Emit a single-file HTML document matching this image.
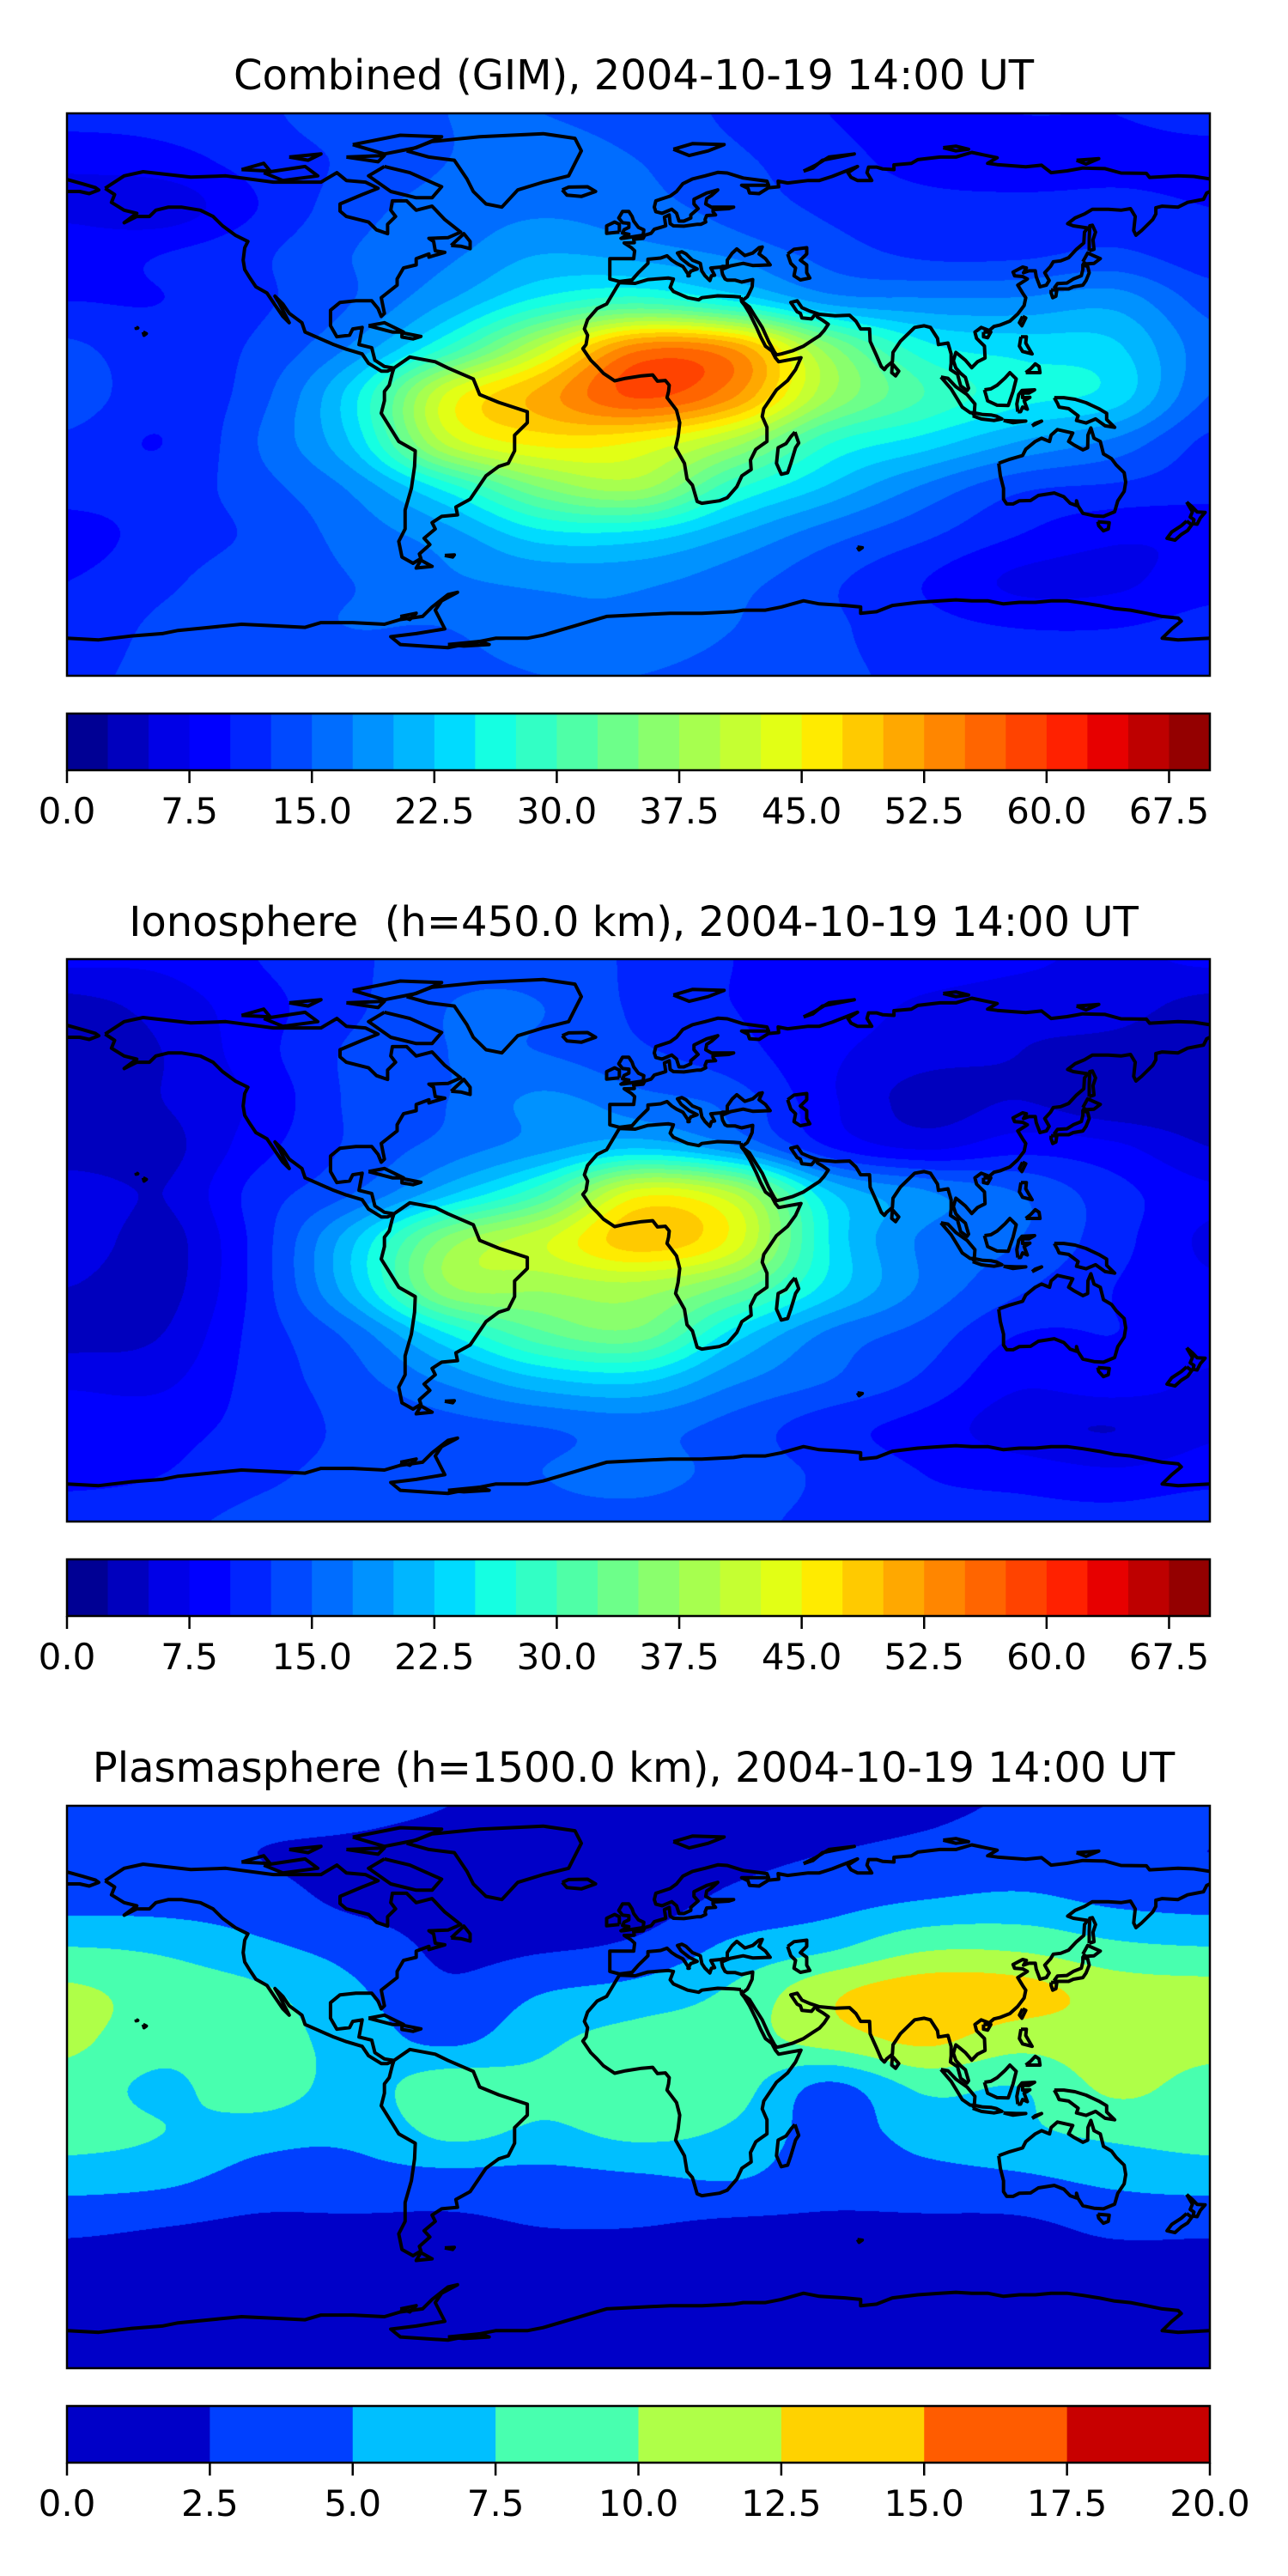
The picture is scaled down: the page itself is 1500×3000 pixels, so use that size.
<!DOCTYPE html>
<html><head><meta charset="utf-8">
<style>
html,body{margin:0;padding:0;background:#fff;}
body{width:1500px;height:3000px;position:relative;overflow:hidden;font-family:"DejaVu Sans","Liberation Sans",sans-serif;}
.title{position:absolute;left:0;width:1500px;text-align:center;font-size:48px;line-height:48px;color:#000;white-space:pre;}
canvas{position:absolute;}
svg{position:absolute;left:0;top:0;}
</style></head>
<body>
<div class="title" style="top:64px;left:-12px">Combined (GIM), 2004-10-19 14:00 UT</div>
<div class="title" style="top:1050px;left:-12px">Ionosphere  (h=450.0 km), 2004-10-19 14:00 UT</div>
<div class="title" style="top:2035px;left:-12px">Plasmasphere (h=1500.0 km), 2004-10-19 14:00 UT</div>
<canvas id="c0" width="1331" height="655" style="left:78px;top:132px"></canvas>
<canvas id="c1" width="1331" height="655" style="left:78px;top:1117px"></canvas>
<canvas id="c2" width="1331" height="655" style="left:78px;top:2103px"></canvas>
<svg id="ov" width="1500" height="3000"></svg>
<script>
// grid longitudes / latitudes
const gridLons = [-180,-150,-120,-90,-60,-30,0,30,60,90,120,150,180];
const gridLats = [90,75,60,45,30,15,0,-15,-30,-45,-60,-75,-90];
// Combined GIM TEC (TECU), rows = gridLats
const combinedTec = [
[11,11,12,14,15,15,14,12,10,9,10,10,11],
[8,9,11,13,15,16,15,13,11,9,8,9,9],
[7,6,10,14,16,17,16,14,12,11,11,11,10],
[9,10,12,15,17,20,19,17,14,12,12,13,11],
[10,10,12,15,20,26,29,25,19,18,18,19,14],
[13,11,13,18,28,41,54,52,36,26,24,23,16],
[14,11,14,24,43,51,58,53,38,30,26,24,15],
[12,10,15,23,41,46,45,39,28,24,20,17,12],
[11,11,14,18,26,35,38,28,22,17,13,12,11],
[9,11,13,16,19,24,24,20,16,13,10,8,8],
[10,12,14,15,17,18,18,16,13,10,7,7,9],
[11,13,14,15,15,17,17,15,13,11,10,10,11],
[12,13,13,13,14,15,15,14,13,12,12,12,12]];
// Ionosphere TEC
const ionoTec = [
[8,8,10,12,14,14,12,10,9,9,8,7,8],
[4,6,9,12,15,15,12,10,9,7,6,6,4],
[3,5,9,13,15,15,13,11,8,6,5,4,3],
[3,5,8,13,15,18,16,14,8,4,5,3,3],
[3,4,9,13,16,19,22,18,10,7,9,8,5],
[7,5,11,15,22,30,44,40,23,18,15,11,8],
[7,4,11,22,36,42,49,44,25,17,15,11,7],
[5,4,11,22,37,38,39,34,24,17,13,10,8],
[4,5,11,16,25,32,34,24,17,14,10,10,9],
[7,7,11,14,18,22,23,18,15,12,8,9,7],
[9,9,11,13,14,15,16,14,11,9,6,5,7],
[9,10,12,13,13,15,16,14,12,10,9,8,9],
[12,12,13,13,13,14,14,13,12,11,11,11,12]];
// Plasmasphere TEC
const plasmaTec = [
[3.5,3.5,3.5,3.2,2.5,2,2,2,2,2.2,2.7,3.2,3.5],
[3,3.5,2.5,2,1.5,1.5,1.5,2,2.5,3,3.5,3,2.5],
[4,4,3.5,2,1.5,1.5,1.5,3,4,5,5.5,4.5,4],
[7.5,7,5.5,4,2,2.2,3,5.5,7,9.5,9.5,8,7.5],
[10.5,9,8,5.5,3,5,6,8,12,14,13.5,11.5,11],
[10.5,8.5,8.5,6.5,4.5,7,8.5,9,11,13,11,11.5,11],
[9,7,9,6.5,9,8,9,8.5,4.5,8,7.5,10.5,9],
[8.5,7.5,6,5.5,8,7,8,7,4,6,7,8,8.5],
[6,5.5,4,4,4,4,4.5,5,3.5,4,4.5,5.5,6],
[3,2.5,2,2,2,2.5,2.5,2,2,2,2,3,3],
[1.4,1.4,1.4,1.4,1.4,1.4,1.4,1.4,1.4,1.4,1.4,1.4,1.4],
[1.3,1.3,1.3,1.3,1.3,1.3,1.3,1.3,1.3,1.3,1.3,1.3,1.3],
[1.3,1.3,1.3,1.3,1.3,1.3,1.3,1.3,1.3,1.3,1.3,1.3,1.3]];
// contour level settings
const ionoLevelStep = 2.5, ionoLevelMax = 70;
const plasmaLevelStep = 2.5, plasmaLevelMax = 20;
const ionoTicks = [0,7.5,15,22.5,30,37.5,45,52.5,60,67.5];
const ionoTickLabels = ["0.0","7.5","15.0","22.5","30.0","37.5","45.0","52.5","60.0","67.5"];
const plasmaTicks = [0,2.5,5,7.5,10,12.5,15,17.5,20];
const plasmaTickLabels = ["0.0","2.5","5.0","7.5","10.0","12.5","15.0","17.5","20.0"];

// coastlines (lon, lat)
const coasts = [
[[-168,66],[-162,70],[-156,71.3],[-141,69.6],[-130,70],[-115,68],[-100,68],[-95,71],[-92,68.5],[-86,68],[-82,66],[-87,64],[-94,61],[-94,58.7],[-92,57],[-85,55.2],[-82.5,52.7],[-79,51.5],[-79,54.5],[-76.5,57],[-78,59],[-77.5,62],[-73,62],[-70,59],[-65,60.3],[-61,56],[-56,52],[-60,50.2],[-66,50],[-64.5,49],[-64,46],[-61,45.5],[-66,44],[-66,45],[-70,43.5],[-70,41.5],[-74,40.5],[-76,37],[-76,35],[-81,31],[-80,26],[-81,25],[-82,27.5],[-84,30],[-89,30],[-94,29.5],[-97,27],[-97,22],[-95,18.5],[-91,19],[-90,21],[-87,21.5],[-88,16],[-84,15],[-83,11],[-80,9],[-77,8.5],[-79,7.5],[-81,7.5],[-85,10],[-87,13],[-92,14.5],[-96,16],[-105,20],[-106,23],[-110,26],[-112,29],[-114.5,31.5],[-113,29],[-110,23],[-112,25],[-115,29.5],[-117,32.5],[-120.5,34.5],[-122.5,37.5],[-124,40],[-124.5,43],[-124,47],[-123,49],[-127,51],[-131,54],[-134,57],[-138,59],[-144,60],[-148,60],[-152,59],[-154,57],[-158,57],[-162,55],[-158,58],[-162,59],[-166,61.5],[-165,64],[-168,66]],
[[-73,78],[-65,81],[-50,82.5],[-30,83.5],[-20,82],[-18,78],[-20,74],[-22,70],[-30,68],[-38,65.5],[-43,60],[-48,61],[-52,65],[-54,69],[-58,75],[-66,76],[-73,78]],
[[-80,73],[-72,71],[-62,66.5],[-65,63],[-70,63],[-78,65],[-85,70],[-80,73]],
[[-118,71],[-105,73],[-101,70],[-112,68.5],[-118,71]],
[[-90,80],[-75,83],[-62,82.5],[-70,79],[-80,77],[-90,80]],
[[-125,72],[-118,74],[-116,71.5],[-125,72]],
[[-92,76],[-80,76.5],[-82,74.5],[-92,76]],
[[-110,76],[-100,77],[-104,75],[-110,76]],
[[-24,65.5],[-22,66.4],[-16,66.5],[-13.5,65],[-18,63.4],[-22.5,63.8],[-24,65.5]],
[[-85,22],[-80,23],[-74,20],[-77.5,20],[-85,22]],
[[-74.5,19.8],[-68.5,18.6],[-71,17.8],[-74.5,18.4],[-74.5,19.8]],
[[-59,47.7],[-55,51.5],[-53,49],[-53,46.7],[-56,47.5],[-59,47.7]],
[[-156,20],[-155,19.5],[-155.7,19],[-156,20]],
[[-158.2,21.6],[-157.7,21.3],[-158.2,21.2],[-158.2,21.6]],
[[-77,8.5],[-72,12],[-64,10.5],[-60,8.5],[-52,5],[-50,0],[-44,-2.5],[-35,-5.5],[-35,-9],[-39,-13],[-39,-18],[-41,-22],[-44,-23],[-48,-26],[-53,-33.5],[-57.5,-36],[-57,-38.5],[-62,-39],[-65,-41],[-64,-43],[-67.5,-46],[-65.7,-48],[-69,-51],[-68.5,-52.5],[-71,-54],[-74.5,-52],[-75.5,-47],[-73.5,-43],[-73.5,-37],[-71.5,-30],[-70.5,-23],[-70.3,-18],[-75.5,-15],[-81,-6],[-80,-2],[-80,1],[-78.5,3],[-77.5,7],[-77,8.5]],
[[-68.5,-53],[-65,-55],[-70,-55.5],[-68.5,-53]],
[[-61,-51.5],[-58,-51.3],[-58.5,-52],[-61,-51.5]],
[[32.5,29.9],[35,28],[36.5,25.5],[39,21.5],[41,17],[42.8,13.7],[43.5,12.7],[45,13],[48.5,14],[52,15.5],[55,17.5],[57,18.8],[58.5,20.5],[59.8,22.5],[58,23.8],[56.4,24.8],[56,26],[54.5,24.2],[51.5,24.5],[51,26],[50,26.5],[48,29.5],[50,30],[51.5,27.8],[54,26.7],[57,25.7],[62,25.2],[66.5,25.4],[68.5,23.5],[70,21],[72.8,21],[73,17],[75,12.5],[76.5,9],[77.5,8],[78.2,9],[80,10.5],[80.2,13.5],[82.5,17],[87,21.5],[90,22],[92,21.5],[94.2,18],[94.5,16],[97.5,16.5],[98.5,13],[98.5,10],[98.3,8],[100.5,6.5],[101.5,2.8],[103.5,1.3],[104,2],[103,5.5],[101.5,6.8],[100,8.5],[99.2,10.8],[100,13.5],[101,12.7],[103,11],[105,8.6],[106.8,10.5],[109.2,11.7],[109,15.5],[106.5,18],[106,20],[108,21.5],[110.5,20.5],[112,21.8],[114,22.3],[117,23.5],[119.5,25.8],[121.5,28.5],[122,31],[121,32.5],[119.5,35],[122.5,37],[121,37.8],[118.5,38],[118,39.2],[121,40.8],[122.2,40.5],[121.3,39],[123,39.6],[125,39.6],[125.3,37.7],[126.5,34.5],[128.5,35],[129.4,36.5],[128,39],[129.8,41],[130.7,42.5],[133,42.8],[135.5,43.8],[138,46.5],[140.3,48.5],[140.5,52],[141.5,53.3],[137,54],[135.2,54.7],[137.5,56.5],[140.5,57.8],[143,59.3],[148,59.3],[152,59],[155,59.5],[156.5,57],[156,52.5],[156.7,51],[158.5,52.5],[160,54],[162,56],[163,57.8],[163,59.8],[165,60.3],[170,60],[173,61.5],[178,62.5],[179,64.5],[180,65]],
[[180,69],[175,69.8],[170,70],[161,69.5],[160,70.8],[152,70.9],[147,72.3],[140,72.5],[135,71.6],[130,71],[127,73.4],[122,72.9],[113,73.6],[110,74],[113,75.8],[105,77.5],[100,76],[95,76],[88,75.2],[86,74],[80.5,73.5],[80.5,72],[77,72.2],[75,72.8],[72.5,72.8],[72,71],[73.5,68.5],[69,68.5],[67,69.5],[66,71],[69,73],[61,69.8],[57,68.5],[53.5,68.5],[47,67.7],[44,68.3],[44.2,66.5],[41,66.2],[38,64.3],[35,64.5],[34.5,66],[32.5,67],[41,67],[40.5,68.3],[33,69.3],[28,70.9],[25,71.1],[21,70],[17,69],[14,67.5],[12,65],[10,63.5],[5.5,62],[5,60],[5.5,58.5],[7.5,58],[10.5,59.3],[12,58],[12.8,55.5],[14.3,55.5],[16.5,56.5],[16.5,57.5],[18.8,59.5],[17.5,61],[17.5,62.5],[21.5,64.5],[25,65.5],[23,63.7],[21.5,62.7],[21.2,61],[23,60],[30,60],[28.5,59.5],[23.5,59.2],[23.5,58.5],[24.3,57.5],[21.5,57.3],[21,56],[21.2,55.2],[19.7,54.5],[18.6,54.5],[14.3,53.9],[11,54],[10,54.7],[9.7,57.5],[8.2,56.8],[8.6,54],[7,53.5],[5,52.9],[4,51.6],[2,51],[1.5,50],[-1.5,49.7],[-1.3,48.6],[-4.5,48.5],[-2.2,47],[-1.2,46],[-1.5,43.5],[-9,43.5],[-9,37],[-6,36.2],[-2,36.7],[0,39],[3,42],[3,43.3],[7,43.7],[9,44.4],[10.5,43],[12,42],[14,41],[16,38],[15.6,38],[16.5,39.5],[18.5,40.2],[16,41.5],[13.5,43.5],[12.3,45.3],[13.7,45.7],[15,45],[17,43],[19.5,42],[20,39.5],[21,38],[22.5,36.5],[23,38],[24,38.2],[22.8,40.5],[26,40.8],[26.5,41],[28,41],[28,43],[29.5,45.2],[31,46.6],[33.5,44.5],[36,45.3],[38,47],[39,47.2],[38,45],[40,43.5],[41.5,41.5],[36,41.3],[33,42],[29,41.2],[26.2,40],[26.5,38.5],[27.3,37],[28,36.6],[30.5,36.6],[32.5,36],[36,36.8],[35.8,34.5],[35,32.7],[34.3,31.3],[32.5,29.9]],
[[-180,68.8],[-175,67.4],[-171,66.2],[-170,65.5],[-173,64.3],[-176,65],[-180,65]],
[[47,45],[49,46.5],[53,47],[53,45],[51,43],[53,41.5],[53,39],[54,37.3],[51,36.7],[49,38],[49.5,40.5],[48,42],[47,45]],
[[32.3,31.2],[30,31.4],[25,31.6],[20,31],[19,30.3],[15.5,31],[11,33],[10,34.3],[11,37],[9.5,37.3],[3,36.8],[-1,35.6],[-6,35.8],[-10,29],[-13,27.5],[-16,24],[-17,21],[-16,19],[-16.5,16],[-17.5,14.7],[-15,11],[-13,9],[-11,6.8],[-7.5,4.4],[-4,5.2],[1,6],[4.5,6.3],[6,4.3],[8.5,4.5],[9.7,3],[9.5,1],[9,-1],[12,-5],[13,-9],[12.5,-13.5],[11.7,-17],[14.5,-22],[15.3,-27],[17,-29],[18.5,-34.2],[20,-34.8],[25.5,-34],[28,-33],[31,-29.5],[32.6,-26],[35.5,-24],[35.3,-21],[37,-17.5],[40.5,-15],[40.5,-10.5],[39,-7],[39.5,-4.5],[41.5,-1.5],[43.5,1.5],[47,4.5],[49.5,8],[51.2,11.8],[48,11.2],[44.2,10.5],[43.2,11.7],[42,14],[40,15.5],[38.5,18.5],[37.2,21.5],[35,26],[33.5,28.5],[32.5,29.8],[32.3,31.2]],
[[49.3,-12],[50.5,-15.5],[49.5,-17],[48,-22],[47,-25],[45,-25.5],[43.5,-22],[44,-17],[46.5,-15.7],[48,-13.5],[49.3,-12]],
[[-5,50],[1.5,51],[1.7,52.7],[0,53.5],[-1.5,55.5],[-2,57],[-3,58.6],[-5,58.6],[-6.2,56.5],[-5,55],[-3,54.8],[-3,53.5],[-4.5,52.8],[-5,51.7],[-3,51.3],[-5.5,50],[-5,50]],
[[-6,52],[-6,54.5],[-7.5,55.2],[-10,54],[-10,51.6],[-6,52]],
[[52,71.5],[56,73.5],[60,76],[68,77],[58,75],[55,72.5],[52,71.5]],
[[11,78.5],[17,80.3],[27,80],[22,78],[16,76.5],[11,78.5]],
[[96,79],[100,79.5],[104,78.5],[100,78],[96,79]],
[[138,75],[145,75.5],[141,73.8],[138,75]],
[[80,9.8],[82,7.5],[81,6],[79.8,7],[80,9.8]],
[[121,25],[122,24.5],[120.8,22],[120,23],[121,25]],
[[108.7,20],[111,20],[110,18.2],[108.7,18.5],[108.7,20]],
[[130.9,34],[132,35.5],[135,35.7],[137,37],[139.5,38],[140,40],[140,41.5],[141.5,41],[142,39],[141,36.5],[140,35],[137,34.5],[135.5,33.8],[132,33.8],[130.9,34]],
[[130,33.5],[131.8,33.5],[131.5,31.5],[130.5,31],[130,32.5],[130,33.5]],
[[140,42.5],[141.5,45.3],[145.5,43.5],[143.5,42],[141,41.8],[140,42.5]],
[[142,46],[143.5,46.5],[143.2,49.5],[144,52],[143,54.2],[142.2,54],[142,50],[142,46]],
[[120.5,18.5],[122.2,18.5],[122,16.5],[124,13],[121,13.8],[120,15.5],[120.5,18.5]],
[[122,7],[126.5,7],[126.2,9],[125,9.8],[123.6,8.3],[122,7]],
[[109,1.5],[110,-2],[113,-3.4],[116.5,-3.5],[118,1],[119,5],[117,7],[115.5,5.3],[113,3],[111,1.8],[109,1.5]],
[[95.3,5.6],[97.5,5.2],[100,2.5],[103.5,0],[106,-3],[105.8,-5.8],[104.5,-5.8],[102,-4],[100.5,-1.5],[98.5,1.8],[95.3,5.6]],
[[105.3,-6.8],[106,-5.9],[108.5,-6.4],[111,-6.5],[112.7,-6.9],[114.5,-7.8],[112,-8.3],[108,-7.8],[105.3,-6.8]],
[[119.5,-5.5],[119.2,-3],[119.8,0],[120.8,1.3],[124.8,1.5],[123,0.5],[121,0.5],[121,-1],[123.3,-0.9],[121.5,-2],[122.5,-4.7],[121,-4],[120.4,-5.5],[119.5,-5.5]],
[[131,-1],[134,-1],[137.5,-1.5],[141,-2.6],[145,-4.5],[147.5,-6],[147.5,-8],[150,-10.5],[147,-10],[144,-7.8],[141,-9.1],[138,-8.3],[138.5,-6.8],[135.5,-4.5],[132.5,-4],[132,-2.8],[131,-1]],
[[124,-10],[127,-8.5],[125,-9.2],[124,-10]],
[[115,-8.3],[119,-8.5],[122,-8.5],[118,-9],[115,-8.3]],
[[113.5,-22],[114,-26],[115,-30],[115,-33.5],[116,-35],[118,-35],[120,-34],[123.5,-33.9],[126,-32.3],[131,-31.5],[134,-32.7],[136,-34.8],[138,-35.5],[138,-34],[138.5,-35.7],[140,-38],[143.5,-38.8],[146.5,-39],[150,-37.5],[151,-34],[153,-31],[153.5,-28],[153,-25],[150.5,-22.5],[149,-20.5],[146.5,-19],[145.5,-15],[143.5,-14],[142.5,-10.7],[141.6,-13],[141.5,-17],[140,-17.7],[137,-16],[135.5,-15],[136.8,-12.3],[132,-11.2],[130,-13],[129.5,-15],[127,-14],[125,-15],[122,-17.5],[121,-19.5],[117,-20.7],[114,-21.8],[113.5,-22]],
[[144.7,-40.7],[148.3,-41],[148,-43],[146.5,-43.6],[145,-42],[144.7,-40.7]],
[[172.7,-34.4],[174.5,-36],[176,-37.6],[178.5,-37.7],[177,-39.5],[176,-41.5],[174.7,-41.3],[175,-40],[173.8,-39.2],[174.5,-37.5],[172.7,-34.4]],
[[172.7,-40.5],[174.3,-41.7],[173,-43.5],[171,-44.8],[169,-46.6],[166.5,-46],[168,-44],[171,-42],[172.7,-40.5]],
[[69,-48.8],[70.5,-49],[69.5,-49.7],[69,-48.8]],
[[-180,-78],[-170,-78.5],[-160,-77.3],[-150,-76.5],[-145,-75.5],[-135,-74.5],[-125,-73.5],[-115,-74],[-105,-74.5],[-100,-73],[-90,-73],[-80,-73.5],[-75,-72],[-68,-71],[-65,-68],[-60,-64],[-57,-63.3],[-62,-66],[-64,-69],[-62,-73],[-61,-75],[-70,-76.5],[-78,-77.5],[-75,-80],[-60,-81],[-45,-78],[-35,-78],[-30,-77],[-20,-74],[-15,-72.5],[-10,-71],[0,-70.5],[10,-70],[20,-70],[30,-69.5],[33,-69],[40,-69],[45,-68],[52,-66],[57,-67],[65,-67.5],[70,-68],[70,-70],[75,-69.5],[80,-67.5],[88,-66.5],[95,-66],[100,-65.7],[105,-66],[110,-66],[115,-67],[120,-66.5],[125,-66.5],[130,-66],[135,-66],[140,-66.7],[145,-67.5],[150,-68.5],[155,-69],[160,-70],[165,-71],[170,-71.5],[171,-72.5],[168,-75],[165,-78],[170,-78.5],[180,-78]],
[[-75,-71],[-70,-70],[-72,-72],[-75,-71]],
[[-60,-80],[-50,-79],[-47,-80],[-55,-80.5],[-60,-80]]
];

const MAPX = 78, MAPW = 1331, MAPH = 655;
const panelTops = [132, 1117, 2103];

function lerpSeg(x, pts){
  for(let i=1;i<pts.length;i++){
    if(x<=pts[i][0]){const a=pts[i-1],b=pts[i];return a[1]+(b[1]-a[1])*(x-a[0])/(b[0]-a[0]);}
  }
  return pts[pts.length-1][1];
}
function jet(x){
  x=Math.max(0,Math.min(1,x));
  const r=lerpSeg(x,[[0,0],[0.35,0],[0.66,1],[0.89,1],[1,0.5]]);
  const g=lerpSeg(x,[[0,0],[0.125,0],[0.375,1],[0.64,1],[0.91,0],[1,0]]);
  const b=lerpSeg(x,[[0,0.5],[0.11,1],[0.34,1],[0.65,0],[1,0]]);
  return [Math.round(r*255),Math.round(g*255),Math.round(b*255)];
}
function cr(p0,p1,p2,p3,t){
  return 0.5*((2*p1)+(-p0+p2)*t+(2*p0-5*p1+4*p2-p3)*t*t+(-p0+3*p1-3*p2+p3)*t*t*t);
}
function sampleGrid(grid, gx, gy){
  const R=grid.length, C=grid[0].length;
  const ix=Math.min(Math.floor(gx),C-2), iy=Math.min(Math.floor(gy),R-2);
  const tx=gx-ix, ty=gy-iy;
  const rows=[];
  for(let k=-1;k<=2;k++){
    const r=grid[Math.max(0,Math.min(R-1,iy+k))];
    const c=j=>r[Math.max(0,Math.min(C-1,j))];
    rows.push(cr(c(ix-1),c(ix),c(ix+1),c(ix+2),tx));
  }
  return cr(rows[0],rows[1],rows[2],rows[3],ty);
}
function renderField(id, grid, step, vmax){
  const cv=document.getElementById(id), ctx=cv.getContext('2d');
  const W=cv.width,H=cv.height, img=ctx.createImageData(W,H), d=img.data;
  const n=Math.round(vmax/step);
  const pal=[]; for(let i=0;i<n;i++) pal.push(jet((i+0.5)/n));
  const nC=gridLons.length-1, nR=gridLats.length-1;
  for(let py=0;py<H;py++){
    const gy=py/(H-1)*nR;
    for(let px=0;px<W;px++){
      const gx=px/(W-1)*nC;
      const v=sampleGrid(grid,gx,gy);
      let k=Math.floor(v/step); k=Math.max(0,Math.min(n-1,k));
      const c=pal[k], o=(py*W+px)*4;
      d[o]=c[0];d[o+1]=c[1];d[o+2]=c[2];d[o+3]=255;
    }
  }
  ctx.putImageData(img,0,0);
}
renderField('c0', combinedTec, ionoLevelStep, ionoLevelMax);
renderField('c1', ionoTec, ionoLevelStep, ionoLevelMax);
renderField('c2', plasmaTec, plasmaLevelStep, plasmaLevelMax);

const NS='http://www.w3.org/2000/svg';
const ov=document.getElementById('ov');
function mk(tag, attrs){const e=document.createElementNS(NS,tag);for(const k in attrs)e.setAttribute(k,attrs[k]);ov.appendChild(e);return e;}
const xLon=lon=>MAPX+(lon+180)/360*MAPW;
const yLat=(lat,top)=>top+(90-lat)/180*MAPH;

const defs=document.createElementNS(NS,'defs'); ov.appendChild(defs);
panelTops.forEach((top,pi)=>{
  const cp=document.createElementNS(NS,'clipPath'); cp.setAttribute('id','clip'+pi);
  const r=document.createElementNS(NS,'rect');
  r.setAttribute('x',MAPX);r.setAttribute('y',top);r.setAttribute('width',MAPW);r.setAttribute('height',MAPH);
  cp.appendChild(r); defs.appendChild(cp);
  const g=mk('g',{'clip-path':'url(#clip'+pi+')'});
  
  
  coasts.forEach(poly=>{
    const p=document.createElementNS(NS,'polyline');
    p.setAttribute('points',poly.map(q=>xLon(q[0]).toFixed(1)+','+yLat(q[1],top).toFixed(1)).join(' '));
    p.setAttribute('fill','none');p.setAttribute('stroke','#000');p.setAttribute('stroke-width','4');p.setAttribute('stroke-linejoin','round');
    
    
    g.appendChild(p);
  });
  const fr=mk('rect',{x:MAPX,y:top,width:MAPW,height:MAPH,fill:'none',stroke:'#000','stroke-width':2.5});
  
  

  // colorbar
  const isPlasma = pi===2;
  const step = isPlasma?plasmaLevelStep:ionoLevelStep, vmax=isPlasma?plasmaLevelMax:ionoLevelMax;
  const ticks = isPlasma?plasmaTicks:ionoTicks, labels=isPlasma?plasmaTickLabels:ionoTickLabels;
  const n=Math.round(vmax/step), cbTop=top+699, cbH=66;
  const xv=v=>MAPX+v/vmax*MAPW;
  for(let i=0;i<n;i++){
    const c=jet((i+0.5)/n);
    const r=mk('rect',{x:xv(i*step),y:cbTop,width:xv((i+1)*step)-xv(i*step)+0.6,height:cbH,fill:'rgb('+c.join(',')+')'});
    
    
  }
  const cf=mk('rect',{x:MAPX,y:cbTop,width:MAPW,height:cbH,fill:'none',stroke:'#000','stroke-width':2.5});
  
  
  ticks.forEach((t,i)=>{
    const x=xv(t);
    const tl=mk('line',{x1:x,x2:x,y1:cbTop+cbH,y2:cbTop+cbH+15,stroke:'#000','stroke-width':2.5});
    
    
    const tx=mk('text',{x:x,y:cbTop+cbH+62,'text-anchor':'middle','font-size':42,'font-family':'DejaVu Sans, Liberation Sans, sans-serif',fill:'#000'});
    tx.textContent=labels[i];
    
    
  });
});
</script>
</body></html>
